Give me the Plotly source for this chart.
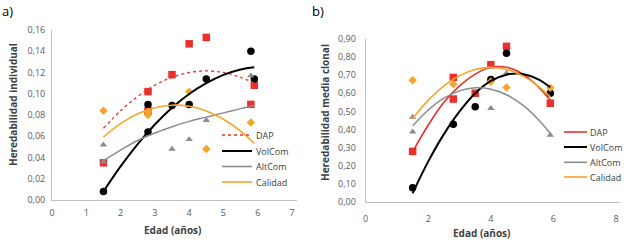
import plotly.graph_objects as go

W, H = 630, 246

# ---------------- data: panel a) Heredabilidad individual ----------------
dap_x_a = [1.5, 2.8, 2.8, 3.5, 4.0, 4.5, 5.8, 5.9]
dap_a = [0.035, 0.102, 0.084, 0.118, 0.147, 0.153, 0.090, 0.108]
vol_x_a = [1.5, 2.8, 2.8, 3.5, 4.0, 4.5, 5.8, 5.9]
vol_a = [0.008, 0.090, 0.064, 0.089, 0.090, 0.114, 0.140, 0.114]
alt_x_a = [1.5, 1.5, 3.5, 4.0, 4.5, 5.8]
alt_a = [0.052, 0.036, 0.048, 0.057, 0.075, 0.117]
cal_x_a = [1.5, 2.8, 2.8, 4.0, 4.5, 5.8]
cal_a = [0.084, 0.080, 0.083, 0.102, 0.048, 0.073]

# trendlines
trend_x = [1.5, 2.0, 2.5, 3.0, 3.5, 4.0, 4.5, 5.0, 5.5, 5.9]
dap_tr_a = [0.0675, 0.084, 0.0975, 0.108, 0.1155, 0.120, 0.1215, 0.120, 0.1155, 0.110]
vol_tr_a = [0.008, 0.0316, 0.0527, 0.0710, 0.0868, 0.0998, 0.1100, 0.1178, 0.1229, 0.125]
alt_tr_a = [0.037, 0.047, 0.056, 0.063, 0.069, 0.074, 0.078, 0.082, 0.086, 0.089]
cal_tr_a = [0.0593, 0.0719, 0.0811, 0.0869, 0.0892, 0.0882, 0.0838, 0.0760, 0.0648, 0.0533]

# ---------------- data: panel b) Heredabilidad media clonal ----------------
dap_x_b = [1.5, 2.8, 2.8, 3.5, 4.0, 4.5, 5.9]
dap_b = [0.28, 0.687, 0.568, 0.60, 0.757, 0.858, 0.545]
vol_x_b = [1.5, 2.8, 3.5, 4.0, 4.5, 5.9]
vol_b = [0.08, 0.43, 0.526, 0.676, 0.82, 0.60]
alt_x_b = [1.5, 1.5, 4.0, 4.5, 5.9]
alt_b = [0.469, 0.388, 0.517, 0.71, 0.37]
cal_x_b = [1.5, 2.8, 4.0, 4.5, 5.9]
cal_b = [0.671, 0.65, 0.663, 0.632, 0.63]

dap_tr_b = [0.278, 0.425, 0.55, 0.64, 0.705, 0.743, 0.743, 0.708, 0.638, 0.562]
vol_tr_b = [0.05, 0.225, 0.375, 0.50, 0.60, 0.668, 0.702, 0.706, 0.678, 0.633]
alt_tr_b = [0.4205, 0.508, 0.5725, 0.613, 0.6295, 0.622, 0.5915, 0.537, 0.4585, 0.379]
cal_tr_b = [0.461, 0.562, 0.641, 0.697, 0.731, 0.742, 0.731, 0.697, 0.641, 0.580]

series_names = ["DAP", "VolCom", "AltCom", "Calidad"]
x_ticks_a = [0, 1, 2, 3, 4, 5, 6, 7]
x_ticks_b = [0, 2, 4, 6, 8]

RED = "#E8302C"
BLACK = "#000000"
GREY = "#8C8C8C"
ORANGE = "#F4A62A"
FONT = "Open Sans"
TICKC = "#595959"
TITC = "#404040"

fig = go.Figure()


def add_panel(xa, ya, pts, trends, dash_first):
    markers = [("square", RED, 7.5), ("circle", BLACK, 7.5),
               ("triangle-up", GREY, 6.5), ("diamond", ORANGE, 6.5)]
    colors = [RED, BLACK, GREY, ORANGE]
    widths = [1.6, 2.0, 1.5, 1.6]
    for (px_, py_), (sym, col, sz) in zip(pts, markers):
        fig.add_trace(go.Scatter(x=px_, y=py_, mode="markers", xaxis=xa, yaxis=ya,
                                 marker=dict(symbol=sym, color=col, size=sz),
                                 showlegend=False, cliponaxis=False))
    for i, ty in enumerate(trends):
        dash = "dot" if (i == 0 and dash_first) else "solid"
        w = 1.3 if dash == "dot" else widths[i]
        fig.add_trace(go.Scatter(x=trend_x, y=ty, mode="lines", xaxis=xa, yaxis=ya,
                                 line=dict(color=colors[i], width=w,
                                           shape="spline", dash=dash),
                                 showlegend=False))


add_panel("x", "y",
          [(dap_x_a, dap_a), (vol_x_a, vol_a), (alt_x_a, alt_a), (cal_x_a, cal_a)],
          [dap_tr_a, vol_tr_a, alt_tr_a, cal_tr_a], True)
add_panel("x2", "y2",
          [(dap_x_b, dap_b), (vol_x_b, vol_b), (alt_x_b, alt_b), (cal_x_b, cal_b)],
          [dap_tr_b, vol_tr_b, alt_tr_b, cal_tr_b], False)

axis_common = dict(showline=True, linecolor="#BFBFBF", linewidth=1, showgrid=False,
                   zeroline=False, ticks="", automargin=False,
                   tickfont=dict(family=FONT, size=9, color=TICKC))

fig.update_layout(
    width=W, height=H, margin=dict(l=0, r=0, t=0, b=0),
    paper_bgcolor="white", plot_bgcolor="white", separators=",.",
    showlegend=False,
    xaxis=dict(domain=[52 / W, 297 / W], range=[0, 245 / 34.29], anchor="y",
               tickvals=x_ticks_a, ticklabelstandoff=4, **axis_common),
    yaxis=dict(domain=[1 - 200 / H, 1 - 30 / H], range=[0, 0.16], anchor="x",
               dtick=0.02, tickformat=".2f", ticklabelstandoff=4, **axis_common),
    xaxis2=dict(domain=[365.7 / W, 620 / W], range=[0, 254.3 / 31.29], anchor="y2",
                tickvals=x_ticks_b, ticklabelstandoff=8, **axis_common),
    yaxis2=dict(domain=[1 - 202.3 / H, 1 - 38.7 / H], range=[0, 0.9], anchor="x2",
                dtick=0.1, tickformat=".2f", ticklabelstandoff=7, **axis_common),
)

ann = []
def text(x, y, s, size=10, color=TITC, angle=0, xanchor="center"):
    ann.append(dict(x=x / W, y=1 - y / H, xref="paper", yref="paper", text=s,
                    showarrow=False, textangle=angle, xanchor=xanchor, yanchor="middle",
                    font=dict(family=FONT, size=size, color=color)))

text(7, 11, "a)", size=13, color="#000000")
text(318, 11, "b)", size=13, color="#000000")
text(172.5, 230, "<b>Edad (años)</b>")
text(482, 233, "<b>Edad (años)</b>")
text(13, 105, "<b>Heredabilidad individual</b>", angle=-90)
text(325, 113, "<b>Heredabilidad media clonal</b>", angle=-90)

# legends
shapes = []
leg_a_rows = [135, 151, 166.5, 182]
leg_b_rows = [132, 147, 162.3, 177]
cols = [RED, BLACK, GREY, ORANGE]
for i, name in enumerate(series_names):
    y = leg_a_rows[i]
    shapes.append(dict(type="line", xref="paper", yref="paper",
                       x0=222 / W, x1=252 / W, y0=1 - y / H, y1=1 - y / H,
                       line=dict(color=cols[i], width=2 if i == 1 else (1.3 if i == 0 else 1.6),
                                 dash="dot" if i == 0 else "solid")))
    text(254, y, name, size=9, color=TITC, xanchor="left")
    y = leg_b_rows[i]
    shapes.append(dict(type="line", xref="paper", yref="paper",
                       x0=564 / W, x1=587 / W, y0=1 - y / H, y1=1 - y / H,
                       line=dict(color=cols[i], width=2 if i == 1 else 1.6)))
    text(588, y, name, size=9, color=TITC, xanchor="left")

fig.update_layout(annotations=ann, shapes=shapes)
fig.write_html("out.html", config={"displayModeBar": False},
               post_script="document.body.style.margin='0';document.body.style.overflow='hidden';")
